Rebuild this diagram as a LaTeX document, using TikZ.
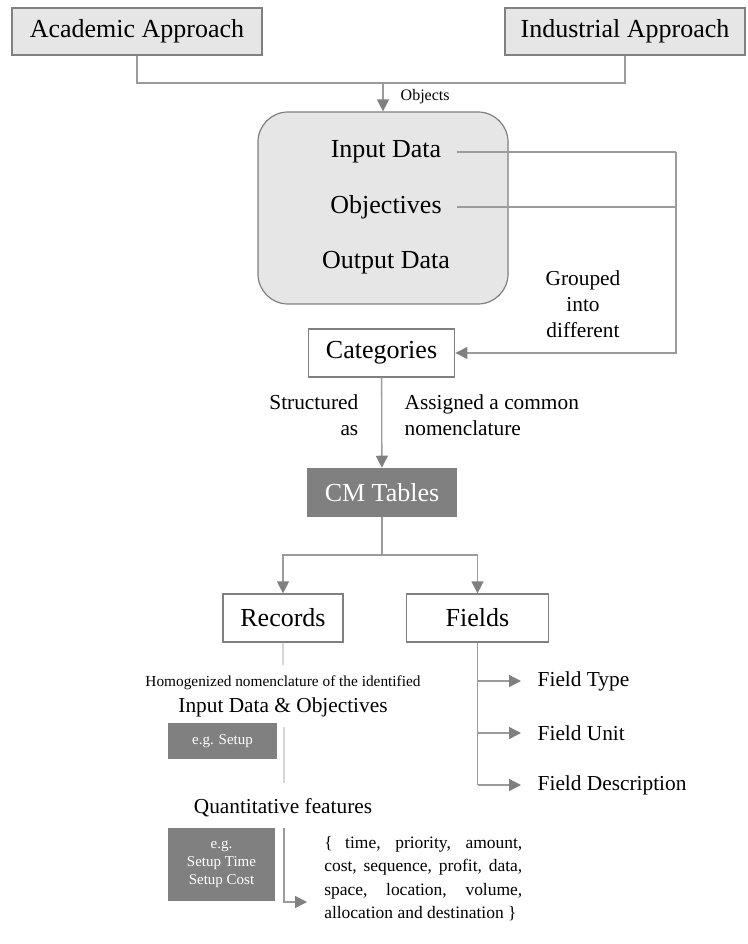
\documentclass[tikz,border=0pt]{standalone}
\usepackage{fontspec}
\setmainfont{Liberation Serif}
\usetikzlibrary{arrows.meta,positioning,calc}
\hyphenpenalty=10000
\exhyphenpenalty=10000
\definecolor{boxgray}{RGB}{230,230,230}
\definecolor{edgegray}{RGB}{128,128,128}
\definecolor{linegray}{RGB}{155,155,155}
\definecolor{cmgray}{RGB}{128,128,128}
\definecolor{faintgray}{RGB}{215,215,215}
\tikzset{
  approach/.style={rectangle, draw=edgegray, fill=boxgray, line width=0.9pt,
                   minimum height=35.25pt, inner sep=0pt,
                   font=\fontsize{19.5}{23}\selectfont},
  plainbox/.style={rectangle, draw=edgegray, fill=white, line width=0.9pt,
                   minimum height=36pt, inner sep=0pt,
                   font=\fontsize{19.5}{23}\selectfont},
  tablebox/.style={rectangle, fill=cmgray, text=white, inner sep=0pt,
                   align=center},
  bigtext/.style={font=\fontsize{19.5}{23}\selectfont},
  midtext/.style={font=\fontsize{16}{19.5}\selectfont},
  smalltext/.style={font=\fontsize{11.25}{13.5}\selectfont},
  link/.style={draw=linegray, line width=1pt},
  faint/.style={draw=faintgray, line width=1pt},
  arrow/.style={link, -{Triangle[length=9pt,width=9pt,color=edgegray]}}
}
\begin{document}
\begin{tikzpicture}[x=0.75pt, y=-0.75pt]
\useasboundingbox (0,0) rectangle (747,944);
% sources
\node[approach, minimum width=187.5pt] (academic) at (137,31.5) {Academic Approach};
\node[approach, minimum width=180pt] (industrial) at (625,31.5) {Industrial Approach};
\coordinate (join) at (383,83);
\draw[link] (academic.south) |- (join) -| (industrial.south);
% objects
\node[rectangle, rounded corners=22.5pt, draw=edgegray, fill=boxgray, line width=0.9pt,
      minimum width=187.5pt, minimum height=144pt] (objbox) at (383,208) {};
\draw[arrow] (join) -- (objbox.north);
\node[font=\fontsize{12}{14}\selectfont, anchor=west] (objlabel) at (396,97) {Objects};
\node[bigtext] (input) at (386,152) {Input Data};
\node[bigtext] (objectives) at (386,207) {Objectives};
\node[bigtext] (output) at (386,263) {Output Data};
% categories
\node[plainbox, minimum width=110pt] (categories) at (381.5,353) {Categories};
\coordinate (bend) at (676,152);
\draw[link] ([xshift=8pt]input.east) -- (bend);
\draw[link] ([xshift=8pt]objectives.east) -- (objectives.east -| bend);
\draw[arrow] (bend) |- (categories.east);
\node[midtext, align=center] (grouped) at (583,304) {Grouped\\into\\different};
% tables
\node[tablebox, bigtext, minimum width=112.5pt, minimum height=36.75pt] (cmtables) at (382,492.5) {CM Tables};
\draw[arrow] (categories) -- (cmtables);
\node[midtext, align=right, anchor=east] (structured) at (363,415) {Structured\\as};
\node[midtext, align=left, anchor=west] (assigned) at (400,415) {Assigned a common\\nomenclature};
\node[plainbox, minimum width=90pt] (records) at (283,618) {Records};
\node[plainbox, minimum width=107pt] (fields) at (477.5,618) {Fields};
\coordinate (split) at (382,555);
\draw[link] (cmtables.south) -- (split);
\draw[arrow] (split) -| (records.north);
\draw[arrow] (split) -| (fields.north);
% records
\coordinate (fadeA) at (283,665);
\draw[faint] (records.south) -- (fadeA);
\node[font=\fontsize{11.5}{14}\selectfont] (homog) at (283,683) {Homogenized nomenclature of the identified};
\node[midtext] (inobj) at (283,707) {Input Data \& Objectives};
\node[tablebox, smalltext, minimum width=81.75pt, minimum height=27pt] (egsetup) at (222.5,741) {e.g. Setup};
\coordinate (fadeB) at (284,727);
\coordinate (fadeC) at (284,783);
\draw[faint] (fadeB) -- (fadeC);
\node[midtext] (quant) at (283,808) {Quantitative features};
\node[tablebox, smalltext, minimum width=80pt, minimum height=55pt] (egtime) at (221.5,864.5) {e.g.\\Setup Time\\Setup Cost};
\node[anchor=north west, text width=148.5pt, align=justify, inner sep=0pt,
      font=\fontsize{13.1}{17.5}\selectfont] (featlist) at (324,836)
  {\{ time, priority, amount, cost, sequence, profit, data, space, location, volume, allocation and destination \}};
\coordinate (featstart) at (284,828);
\coordinate (feattip) at (307,902);
\draw[arrow] (featstart) |- (feattip);
% fields
\node[midtext, anchor=west] (ftype) at (533,681) {Field Type};
\node[midtext, anchor=west] (funit) at (533,733) {Field Unit};
\node[midtext, anchor=west] (fdesc) at (533,785) {Field Description};
\draw[link] (fields.south) -- (fields.south |- fdesc.west);
\foreach \f in {ftype,funit,fdesc}
  \draw[arrow] (fields.south |- \f.west) -- ([xshift=-9pt]\f.west);
\end{tikzpicture}
\end{document}
